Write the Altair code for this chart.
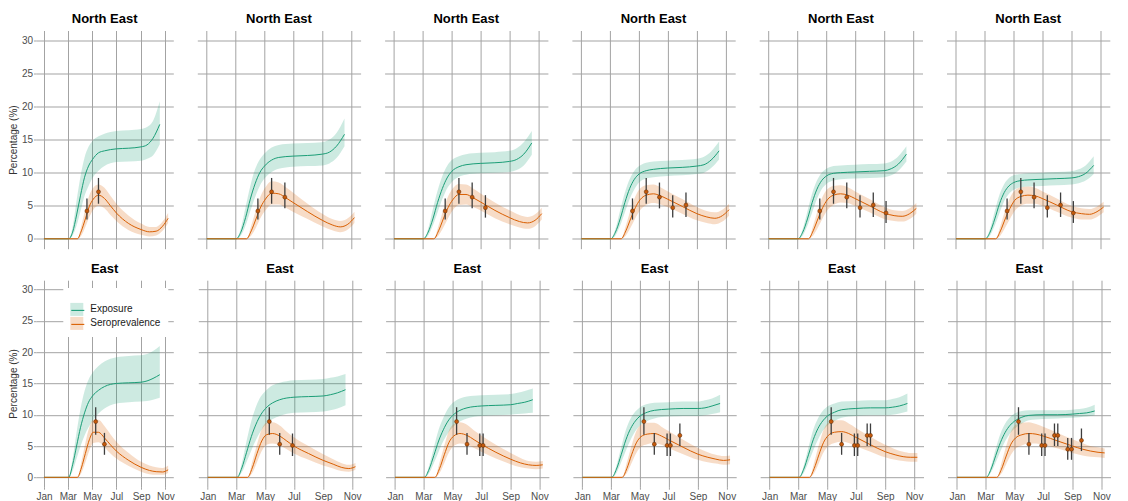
import altair as alt
import pandas as pd

# ---------------- data ----------------
# day numbers counted from 1 Jan 2020
EXP_DAYS = [0, 62, 72, 82, 92, 102, 112, 122, 137, 152, 182, 213, 244, 259, 274, 291]
SERO_DAYS = [0, 84, 94, 104, 114, 124, 137, 152, 167, 182, 213, 244, 265, 282, 298, 312]

PANEL_TITLES = ["North East"] * 6 + ["East"] * 6

EXP_MED = [
    [0, 0, 1.0, 3.6, 6.6, 9.3, 11.0, 12.0, 13.0, 13.3, 13.6, 13.7, 13.9, 14.2, 15.2, 17.3],
    [0, 0, 1.0, 3.2, 6.0, 8.3, 10.0, 11.0, 11.9, 12.3, 12.5, 12.6, 12.8, 13.1, 14.0, 15.8],
    [0, 0, 1.0, 3.0, 5.5, 7.6, 9.2, 10.2, 10.9, 11.2, 11.4, 11.5, 11.7, 12.0, 12.8, 14.5],
    [0, 0, 1.0, 3.0, 5.5, 7.6, 9.0, 9.8, 10.3, 10.5, 10.7, 10.8, 11.0, 11.2, 11.9, 13.3],
    [0, 0, 1.0, 3.0, 5.5, 7.5, 8.8, 9.5, 9.9, 10.0, 10.1, 10.2, 10.3, 10.6, 11.3, 12.8],
    [0, 0, 1.0, 3.0, 5.3, 7.0, 8.0, 8.5, 8.8, 8.9, 9.0, 9.1, 9.2, 9.4, 9.9, 11.1],
    [0, 0, 2.0, 5.0, 8.0, 10.3, 12.0, 13.0, 13.9, 14.5, 15.0, 15.1, 15.2, 15.4, 15.8, 16.4],
    [0, 0, 1.5, 4.0, 6.5, 8.5, 10.0, 11.0, 11.9, 12.4, 12.8, 12.9, 13.0, 13.2, 13.5, 14.0],
    [0, 0, 1.3, 3.5, 5.8, 7.6, 9.0, 9.9, 10.7, 11.1, 11.4, 11.5, 11.6, 11.8, 12.0, 12.4],
    [0, 0, 1.3, 3.6, 6.0, 7.8, 9.0, 9.8, 10.4, 10.7, 10.9, 11.0, 11.0, 11.1, 11.4, 11.8],
    [0, 0, 1.3, 3.6, 6.0, 7.8, 9.0, 9.8, 10.4, 10.8, 11.0, 11.1, 11.1, 11.2, 11.4, 11.8],
    [0, 0, 1.3, 3.5, 5.6, 7.2, 8.3, 9.0, 9.6, 9.9, 10.0, 10.0, 10.1, 10.2, 10.3, 10.6],
]
EXP_HI = [
    [0, 0, 1.8, 5.8, 9.5, 12.3, 13.9, 14.8, 15.5, 15.9, 16.3, 16.4, 16.6, 16.9, 17.8, 20.8],
    [0, 0, 1.6, 4.8, 8.0, 10.5, 12.0, 12.9, 13.8, 14.2, 14.4, 14.5, 14.6, 15.0, 16.0, 18.2],
    [0, 0, 1.5, 4.5, 7.3, 9.5, 11.0, 11.9, 12.5, 12.8, 13.0, 13.1, 13.3, 13.7, 14.6, 16.3],
    [0, 0, 1.5, 4.3, 7.0, 9.0, 10.3, 11.0, 11.5, 11.7, 11.8, 11.9, 12.1, 12.4, 13.2, 14.7],
    [0, 0, 1.5, 4.2, 6.9, 8.8, 10.0, 10.6, 11.0, 11.1, 11.2, 11.3, 11.4, 11.7, 12.5, 14.0],
    [0, 0, 1.5, 4.2, 6.7, 8.3, 9.2, 9.6, 9.8, 9.9, 10.0, 10.1, 10.2, 10.5, 11.1, 12.5],
    [0, 0, 3.0, 7.2, 11.0, 13.8, 15.6, 16.7, 17.8, 18.5, 19.2, 19.4, 19.5, 19.7, 20.2, 21.0],
    [0, 0, 2.3, 5.8, 9.0, 11.3, 12.9, 13.8, 14.7, 15.1, 15.5, 15.6, 15.7, 15.9, 16.1, 16.5],
    [0, 0, 1.9, 4.8, 7.6, 9.5, 11.0, 11.9, 12.6, 12.9, 13.1, 13.2, 13.3, 13.5, 13.8, 14.2],
    [0, 0, 1.9, 4.8, 7.6, 9.4, 10.5, 11.2, 11.7, 11.9, 12.0, 12.1, 12.1, 12.3, 12.6, 13.2],
    [0, 0, 1.9, 4.8, 7.6, 9.4, 10.6, 11.3, 11.8, 12.1, 12.2, 12.3, 12.3, 12.5, 12.8, 13.4],
    [0, 0, 1.8, 4.6, 7.0, 8.6, 9.6, 10.2, 10.6, 10.7, 10.7, 10.7, 10.8, 10.9, 11.1, 11.6],
]
EXP_LO = [
    [0, 0, 0.5, 2.0, 4.2, 6.5, 8.0, 9.2, 10.3, 11.0, 11.6, 11.7, 11.8, 12.1, 12.6, 14.3],
    [0, 0, 0.5, 2.0, 4.2, 6.3, 8.0, 9.1, 10.1, 10.6, 10.9, 11.0, 11.1, 11.4, 12.2, 14.0],
    [0, 0, 0.5, 2.0, 4.0, 6.0, 7.6, 8.6, 9.4, 9.7, 9.9, 10.0, 10.1, 10.4, 11.1, 12.7],
    [0, 0, 0.5, 2.0, 4.0, 6.0, 7.5, 8.5, 9.1, 9.3, 9.5, 9.6, 9.8, 10.0, 10.7, 12.0],
    [0, 0, 0.5, 2.0, 4.0, 6.0, 7.5, 8.3, 8.8, 9.0, 9.1, 9.2, 9.3, 9.6, 10.3, 11.7],
    [0, 0, 0.5, 2.0, 3.9, 5.7, 6.8, 7.4, 7.8, 7.9, 8.0, 8.1, 8.2, 8.4, 8.8, 9.8],
    [0, 0, 1.0, 3.0, 5.0, 6.7, 8.0, 9.0, 10.2, 11.0, 11.8, 12.0, 12.1, 12.2, 12.4, 12.7],
    [0, 0, 0.8, 2.5, 4.3, 6.0, 7.4, 8.4, 9.3, 9.8, 10.3, 10.4, 10.5, 10.7, 11.0, 11.5],
    [0, 0, 0.7, 2.3, 4.1, 5.8, 7.1, 8.0, 8.9, 9.4, 9.8, 9.9, 10.0, 10.1, 10.2, 10.3],
    [0, 0, 0.7, 2.4, 4.3, 6.0, 7.4, 8.3, 9.0, 9.4, 9.7, 9.8, 9.8, 9.9, 10.1, 10.4],
    [0, 0, 0.7, 2.4, 4.3, 6.0, 7.4, 8.3, 9.0, 9.5, 9.8, 9.9, 9.9, 10.0, 10.2, 10.5],
    [0, 0, 0.8, 2.4, 4.2, 5.8, 7.0, 7.8, 8.6, 9.1, 9.3, 9.4, 9.5, 9.6, 9.7, 9.9],
]
SERO_MED = [
    [0, 0, 1.2, 3.0, 4.9, 6.0, 6.6, 6.1, 5.0, 3.9, 2.3, 1.4, 1.05, 1.15, 1.9, 3.1],
    [0, 0, 1.2, 3.0, 4.8, 6.0, 6.9, 6.8, 6.2, 5.5, 4.1, 2.8, 2.1, 1.8, 2.2, 3.2],
    [0, 0, 1.2, 3.0, 4.7, 5.9, 6.7, 6.7, 6.2, 5.6, 4.3, 3.2, 2.6, 2.4, 2.8, 3.8],
    [0, 0, 1.2, 3.0, 4.7, 5.9, 6.6, 6.8, 6.5, 6.0, 4.9, 3.8, 3.3, 3.1, 3.5, 4.4],
    [0, 0, 1.2, 3.0, 4.7, 5.9, 6.6, 6.8, 6.6, 6.1, 5.0, 3.9, 3.5, 3.4, 3.8, 4.6],
    [0, 0, 1.2, 3.0, 4.6, 5.8, 6.4, 6.6, 6.5, 6.1, 5.1, 4.1, 3.8, 3.7, 4.1, 4.8],
    [0, 0, 1.5, 3.8, 6.0, 7.2, 7.2, 6.3, 5.2, 4.2, 2.7, 1.6, 1.1, 0.9, 0.85, 1.2],
    [0, 0, 1.5, 3.8, 5.8, 6.8, 7.0, 6.6, 5.8, 5.0, 3.8, 2.7, 2.1, 1.6, 1.4, 1.7],
    [0, 0, 1.4, 3.6, 5.6, 6.6, 7.0, 6.7, 6.0, 5.3, 4.0, 2.9, 2.3, 2.0, 1.9, 2.0],
    [0, 0, 1.4, 3.6, 5.5, 6.5, 6.9, 7.0, 6.6, 6.0, 4.8, 3.7, 3.2, 2.9, 2.7, 2.8],
    [0, 0, 1.4, 3.6, 5.6, 6.7, 7.2, 7.3, 7.0, 6.4, 5.2, 4.1, 3.6, 3.3, 3.2, 3.2],
    [0, 0, 1.3, 3.4, 5.3, 6.3, 6.8, 7.0, 6.9, 6.6, 5.8, 5.0, 4.5, 4.2, 4.0, 3.9],
]
SERO_HI = [
    [0, 0, 2.0, 4.5, 6.6, 7.7, 8.2, 7.7, 6.5, 5.3, 3.5, 2.3, 1.8, 1.8, 2.6, 3.9],
    [0, 0, 2.0, 4.4, 6.5, 7.8, 8.7, 8.5, 7.8, 7.0, 5.3, 3.8, 3.0, 2.7, 3.1, 4.1],
    [0, 0, 2.0, 4.4, 6.4, 7.6, 8.3, 8.2, 7.6, 6.9, 5.5, 4.3, 3.6, 3.3, 3.7, 4.7],
    [0, 0, 2.0, 4.4, 6.4, 7.6, 8.1, 8.2, 7.8, 7.2, 6.0, 4.8, 4.2, 4.0, 4.4, 5.3],
    [0, 0, 2.0, 4.4, 6.4, 7.5, 8.0, 8.1, 7.8, 7.2, 6.0, 4.8, 4.3, 4.2, 4.6, 5.4],
    [0, 0, 2.0, 4.3, 6.2, 7.3, 7.8, 7.9, 7.7, 7.2, 6.1, 5.0, 4.6, 4.5, 4.9, 5.6],
    [0, 0, 2.5, 5.5, 8.0, 9.2, 9.2, 8.2, 6.9, 5.7, 3.9, 2.5, 1.9, 1.6, 1.5, 1.9],
    [0, 0, 2.5, 5.3, 7.7, 8.7, 8.8, 8.3, 7.3, 6.4, 5.0, 3.7, 2.9, 2.3, 2.0, 2.3],
    [0, 0, 2.4, 5.1, 7.5, 8.5, 8.8, 8.4, 7.5, 6.7, 5.2, 3.9, 3.1, 2.6, 2.5, 2.6],
    [0, 0, 2.4, 5.1, 7.4, 8.4, 8.7, 8.7, 8.1, 7.4, 6.0, 4.7, 4.0, 3.6, 3.4, 3.5],
    [0, 0, 2.4, 5.2, 7.6, 8.7, 9.1, 9.1, 8.6, 7.9, 6.5, 5.2, 4.5, 4.1, 3.9, 3.9],
    [0, 0, 2.3, 5.0, 7.3, 8.4, 8.7, 8.8, 8.5, 8.1, 7.1, 6.1, 5.5, 5.0, 4.8, 4.6],
]
SERO_LO = [
    [0, 0, 0.5, 1.8, 3.3, 4.4, 5.0, 4.6, 3.6, 2.7, 1.3, 0.6, 0.35, 0.5, 1.2, 2.4],
    [0, 0, 0.5, 1.7, 3.2, 4.3, 5.2, 5.2, 4.7, 4.1, 3.0, 1.9, 1.3, 1.0, 1.4, 2.4],
    [0, 0, 0.5, 1.7, 3.1, 4.3, 5.1, 5.2, 4.8, 4.3, 3.1, 2.2, 1.7, 1.5, 1.9, 2.9],
    [0, 0, 0.5, 1.7, 3.1, 4.3, 5.1, 5.4, 5.2, 4.8, 3.8, 2.8, 2.4, 2.2, 2.6, 3.5],
    [0, 0, 0.5, 1.7, 3.1, 4.3, 5.1, 5.5, 5.4, 5.0, 4.0, 3.0, 2.7, 2.6, 3.0, 3.8],
    [0, 0, 0.5, 1.7, 3.0, 4.2, 5.0, 5.3, 5.3, 5.0, 4.1, 3.2, 2.9, 2.9, 3.3, 4.0],
    [0, 0, 0.7, 2.4, 4.3, 5.5, 5.6, 4.8, 3.8, 3.0, 1.8, 0.9, 0.5, 0.4, 0.4, 0.7],
    [0, 0, 0.7, 2.4, 4.2, 5.2, 5.4, 5.1, 4.5, 3.8, 2.8, 1.9, 1.4, 1.0, 0.9, 1.2],
    [0, 0, 0.7, 2.3, 4.0, 5.0, 5.4, 5.2, 4.7, 4.1, 3.0, 2.1, 1.6, 1.4, 1.3, 1.4],
    [0, 0, 0.7, 2.3, 3.9, 4.9, 5.3, 5.5, 5.2, 4.7, 3.7, 2.8, 2.4, 2.2, 2.0, 2.1],
    [0, 0, 0.7, 2.3, 4.0, 5.0, 5.5, 5.7, 5.5, 5.0, 4.1, 3.2, 2.8, 2.6, 2.5, 2.5],
    [0, 0, 0.6, 2.1, 3.6, 4.6, 5.1, 5.4, 5.4, 5.2, 4.6, 3.9, 3.5, 3.3, 3.2, 3.1],
]

# survey estimates with intervals
NE_DAYS = [108, 137, 165, 193, 221, 248]
NE_EST = [4.2, 7.1, 6.3, 4.7, 5.1, 3.9]
NE_LO = [2.9, 5.3, 4.6, 3.2, 3.3, 2.4]
NE_HI = [6.1, 9.2, 8.5, 6.6, 7.0, 5.7]
NE_COUNTS = [2, 3, 4, 5, 6, 6]

E_DAYS = [130, 152, 179, 186, 206, 213, 234, 242, 263]
E_EST = [8.9, 5.3, 5.1, 5.1, 6.7, 6.7, 4.5, 4.5, 5.9]
E_LO = [6.8, 3.6, 3.4, 3.4, 5.0, 5.0, 2.8, 2.8, 4.2]
E_HI = [11.2, 7.1, 7.0, 7.0, 8.6, 8.6, 6.3, 6.3, 7.8]
E_COUNTS = [2, 3, 4, 5, 6, 9]

MONTH_DAYS = [0, 60, 121, 182, 244, 305]
MONTH_LABELS = ["Jan", "Mar", "May", "Jul", "Sep", "Nov"]
Y_TICKS = [0, 5, 10, 15, 20, 25, 30]
SERIES = ["Exposure", "Seroprevalence"]

# ---------------- style ----------------
FONT = "Liberation Sans"
GRID = "#a3a3a3"
EXP_COL = "#1b9e77"
SERO_COL = "#d95f02"
PAD_L, PAD_T = 0, 4.5
TITLE_OFFSET = -5.9

label_expr = "".join(
    f"datum.value == {d} ? '{l}' : " for d, l in zip(MONTH_DAYS, MONTH_LABELS)
) + "''"

# legend position, relative to the first panel's plot origin
LEG_X = 27.3
LEG_Y = 257.4

common_leg = dict(
    orient="none", legendX=LEG_X, legendY=LEG_Y, title=" ", titleFontSize=6,
    titlePadding=2, symbolSize=169, labelFontSize=10, labelFont=FONT,
    labelColor="#1a1a1a", labelOffset=7, rowPadding=1, padding=7,
)
FILL_LEGEND = alt.Legend(symbolType="square", symbolOpacity=0.22,
                         symbolStrokeWidth=0, fillColor="white", zindex=1,
                         **common_leg)
STROKE_LEGEND = alt.Legend(symbolType="stroke", symbolStrokeWidth=1.1,
                           labelOpacity=0, zindex=2, **common_leg)


def panel(i):
    row, col = divmod(i, 6)
    recs = []
    for k, d in enumerate(EXP_DAYS):
        recs.append(dict(day=d, med=EXP_MED[i][k], lo=EXP_LO[i][k],
                         hi=EXP_HI[i][k], series=SERIES[0], band=SERIES[0]))
    for k, d in enumerate(SERO_DAYS):
        recs.append(dict(day=d, med=SERO_MED[i][k], lo=SERO_LO[i][k],
                         hi=SERO_HI[i][k], series=SERIES[1], band=SERIES[1]))
    cdf = pd.DataFrame(recs)
    if row == 0:
        n = NE_COUNTS[col]
        pdf = pd.DataFrame(dict(day=NE_DAYS[:n], est=NE_EST[:n],
                                lo=NE_LO[:n], hi=NE_HI[:n]))
    else:
        n = E_COUNTS[col]
        pdf = pd.DataFrame(dict(day=E_DAYS[:n], est=E_EST[:n],
                                lo=E_LO[:n], hi=E_HI[:n]))

    xaxis = alt.Axis(values=MONTH_DAYS, labelExpr=label_expr, grid=True,
                     gridColor=GRID, gridWidth=1, domain=False,
                     ticks=(row == 1), labels=(row == 1), tickColor=GRID,
                     tickSize=2.5, labelPadding=2, labelFontSize=10,
                     labelFont=FONT, labelColor="#4d4d4d", title=None)
    if col == 0:
        yaxis = alt.Axis(values=Y_TICKS, grid=True, gridColor=GRID, gridWidth=1,
                         domain=False, ticks=True, tickColor=GRID, tickSize=2.5,
                         labelPadding=1, labelFontSize=10, labelFont=FONT,
                         labelColor="#4d4d4d", title="Percentage (%)",
                         titleFont=FONT, titleFontSize=10, titleFontWeight="normal",
                         titleColor="#333333", titlePadding=3)
    else:
        yaxis = alt.Axis(values=Y_TICKS, grid=True, gridColor=GRID, gridWidth=1,
                         domain=False, ticks=False, labels=False, title=None)

    xs = alt.Scale(domain=[-20, 325], nice=False, zero=False)
    ys = alt.Scale(domain=[-1.5, 31.5], nice=False, zero=False)

    def X():
        return alt.X("day:Q", scale=xs, axis=xaxis)

    base = alt.Chart(cdf)
    band = base.mark_area(fillOpacity=0.22, interpolate="monotone").encode(
        x=X(), y=alt.Y("lo:Q", scale=ys, axis=yaxis), y2="hi:Q",
        fill=alt.Fill("band:N", scale=alt.Scale(range=[EXP_COL, SERO_COL]),
                      legend=FILL_LEGEND),
    )
    line_exp = base.transform_filter(f"datum.series == '{SERIES[0]}'").mark_line(
        strokeWidth=1, interpolate="monotone").encode(
        x=X(), y=alt.Y("med:Q", scale=ys, axis=yaxis),
        stroke=alt.Stroke("series:N", scale=alt.Scale(range=[EXP_COL, SERO_COL]),
                          legend=STROKE_LEGEND),
    )
    line_sero = base.transform_filter(f"datum.series == '{SERIES[1]}'").mark_line(
        strokeWidth=1, interpolate="monotone").encode(
        x=X(), y=alt.Y("med:Q", scale=ys, axis=yaxis),
        stroke=alt.Stroke("series:N", scale=alt.Scale(range=[EXP_COL, SERO_COL]),
                          legend=STROKE_LEGEND),
    )
    pts = alt.Chart(pdf)
    err = pts.mark_rule(color="#3d3d3d", strokeWidth=1.3).encode(
        x=X(), y=alt.Y("lo:Q", scale=ys, axis=yaxis), y2="hi:Q")
    dots = pts.mark_circle(size=16, color="#c45a0c", stroke="#5a2806",
                           strokeWidth=0.5, opacity=1).encode(
        x=X(), y=alt.Y("est:Q", scale=ys, axis=yaxis))

    return alt.layer(band, line_exp, line_sero, err, dots).properties(
        width=137.3 if col == 0 else 163.3,
        height=218.2 if row == 0 else 206.5,
        title=alt.TitleParams(PANEL_TITLES[i], font=FONT, fontSize=13,
                              fontWeight="bold", color="#000000",
                              anchor="middle", frame="group",
                              offset=TITLE_OFFSET, baseline="alphabetic"),
    )


row1 = alt.hconcat(*[panel(i) for i in range(6)], spacing=23.3)
row2 = alt.hconcat(*[panel(i) for i in range(6, 12)], spacing=23.3)
chart = alt.vconcat(row1, row2, spacing=12.7).configure(
    padding={"left": PAD_L, "top": PAD_T, "right": 0, "bottom": 0},
    background="white",
).configure_view(strokeWidth=0)

chart.save("out.html", embed_options={"renderer": "svg", "actions": False})
